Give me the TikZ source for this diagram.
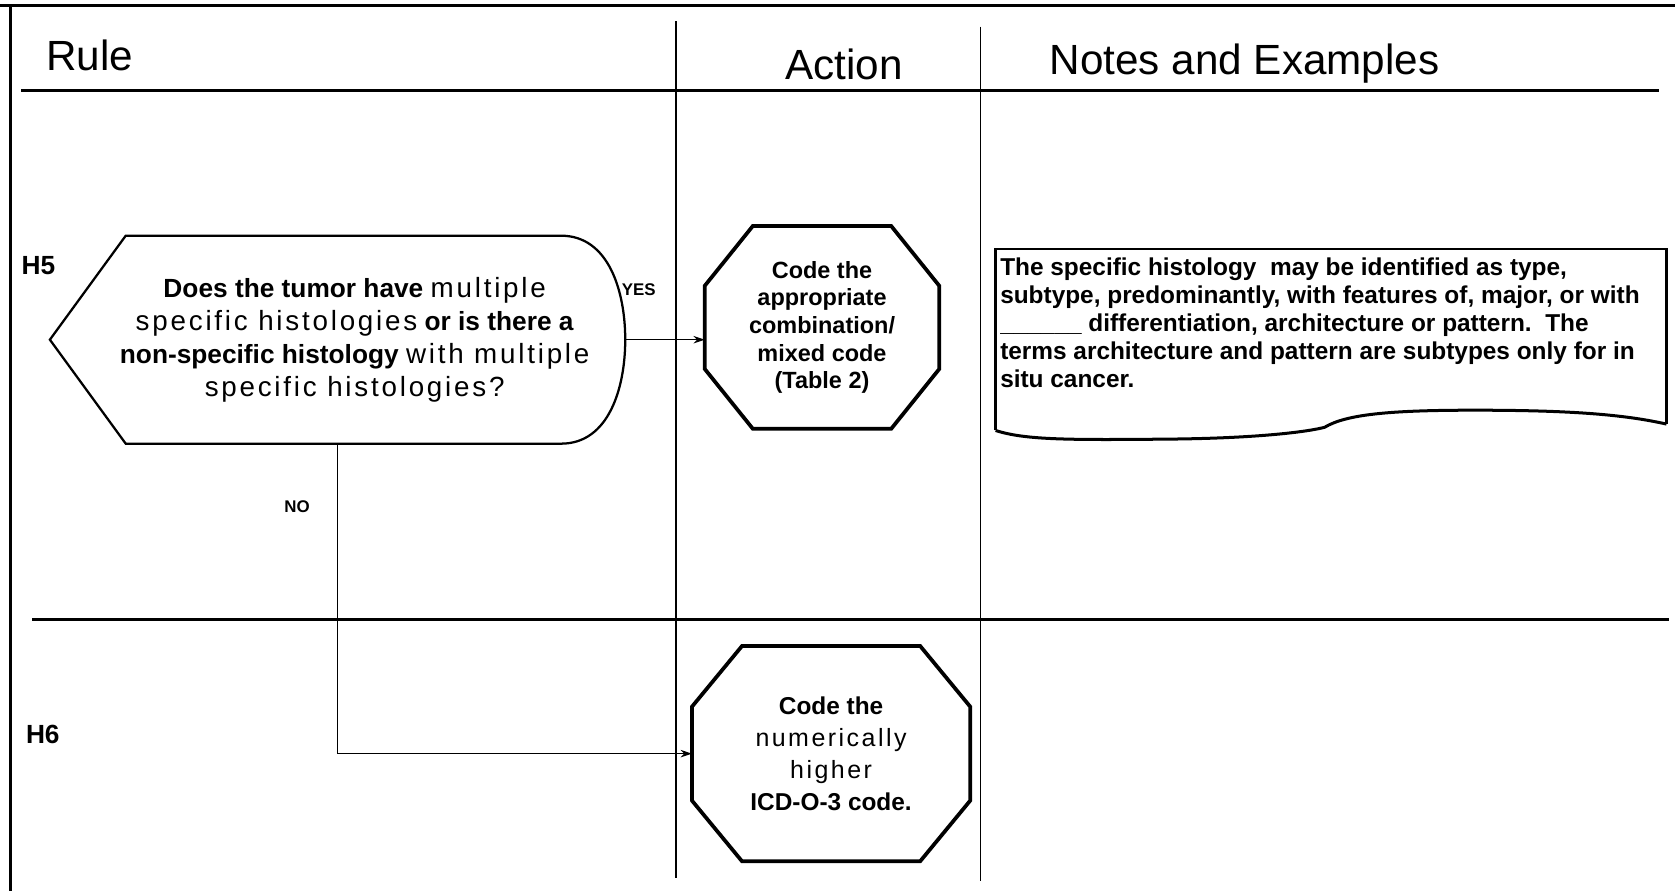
\documentclass[tikz,border=0pt]{standalone}
\usepackage{fontspec}
\setmainfont{Liberation Sans}
\newfontfamily\widefont[LetterSpace=10]{Liberation Sans}
\usetikzlibrary{arrows.meta,positioning,calc}

\newcommand\wide[2][14.8]{{\widefont\mdseries\fontsize{#1}{17.6}\selectfont #2}}
% octagon outline round a node: node, chamfer x, chamfer y
\newcommand\octagon[3]{%
  \draw[octline] ([xshift=#2]#1.north west) -- ([xshift=-#2]#1.north east)
    -- ([yshift=-#3]#1.north east) -- ([yshift=#3]#1.south east)
    -- ([xshift=-#2]#1.south east) -- ([xshift=#2]#1.south west)
    -- ([yshift=#3]#1.south west) -- ([yshift=-#3]#1.north west) -- cycle;}

\tikzset{
  frameline/.style={line width=1.8pt},
  divline/.style={line width=0.8pt},
  octline/.style={line width=2pt, line join=miter},
  decline/.style={line width=1.2pt},
  flow/.style={line width=0.6pt, -{Stealth[length=6pt,width=4pt]}},
  shapebox/.style={inner sep=0pt, align=center},
  head/.style={inner sep=0pt, font=\fontsize{22.5}{26}\selectfont},
  rulelabel/.style={anchor=base west, inner sep=0pt, font=\bfseries\fontsize{14}{16}\selectfont},
  flowlabel/.style={font=\bfseries\fontsize{9}{10}\selectfont},
}

\begin{document}
\begin{tikzpicture}[x=0.02cm, y=0.02cm]
\useasboundingbox (0,0) rectangle (1568,834);

% table frame
\draw[frameline] (0,829) -- (1568,829);
\draw[frameline] (10,829) -- (10,0);
\draw[frameline] (20,749) -- (1553,749);
\draw[frameline] (30,254) -- (1562,254);
\draw[divline] (633,814) -- (633,12);
\draw[divline] (918,809) -- (918,9);

% headings
\node[head, anchor=base west] (hrule) at (43,768) {Rule};
\node[head, anchor=base] (haction) at (790,760) {Action};
\node[head, anchor=base] (hnotes) at (1165,764) {Notes and Examples};

\node[rulelabel] (h5) at (20,577) {H5};
\node[rulelabel] (h6) at (24,138) {H6};

% decision H5
\node[shapebox, minimum width=10.76cm, minimum height=3.88cm] (dec) at (316,516) {};
\draw[decline] ([xshift=1.42cm]dec.north west) -- ([xshift=-1.2cm]dec.north east)
  to[out=0,in=90] (dec.east) to[out=-90,in=0] ([xshift=-1.2cm]dec.south east)
  -- ([xshift=1.42cm]dec.south west) -- (dec.west) -- cycle;
\node[align=center, font=\bfseries\fontsize{14}{17.6}\selectfont] (dectext) at (332,516)
  {Does the tumor have \wide{multiple}\\
   \wide{specific histologies} or is there a\\
   non-specific histology \wide{with multiple}\\
   \wide{specific histologies?}};

% actions
\node[shapebox, minimum width=4.38cm, minimum height=3.78cm,
  font=\bfseries\fontsize{12.5}{14.7}\selectfont] (oc1) at (769.5,527.5)
  {Code the\\appropriate\\combination/\\mixed code\\(Table 2)};
\octagon{oc1}{0.9cm}{1.12cm}

\node[shapebox, minimum width=5.2cm, minimum height=4.02cm,
  font=\bfseries\fontsize{13}{17}\selectfont] (oc2) at (778,128.5)
  {Code the\\\wide[13.3]{numerically}\\\wide[13.3]{higher}\\ICD-O-3 code.};
\octagon{oc2}{0.94cm}{1.14cm}

% note
\draw[line width=1.2pt] (932,431) -- (932,601) -- (1560,601) -- (1560,437);
\draw[line width=1.6pt] (932,431) .. controls (960,422) and (1000,422) .. (1100,423)
  .. controls (1180,424) and (1225,430) .. (1240,434)
  .. controls (1260,446) and (1300,450) .. (1380,450)
  .. controls (1470,450) and (1520,446) .. (1560,437);
\node[anchor=north west, inner sep=0pt, align=left,
  font=\bfseries\fontsize{13}{14.9}\selectfont] (notes) at (936,593)
  {The specific histology\ \ may be identified as type,\\
   subtype, predominantly, with features of, major, or with\\
   \_\_\_\_\_\_ differentiation, architecture or pattern.\ \ The\\
   terms architecture and pattern are subtypes only for in\\
   situ cancer.};

% connectors
\draw[flow] (dec.east) -- (dec.east -| oc1.west);
\draw[flow] (dec.south) |- (oc2.west);
\node[flowlabel] (yes) at (598,563) {YES};
\node[flowlabel] (no) at (278,360) {NO};
\end{tikzpicture}
\end{document}
